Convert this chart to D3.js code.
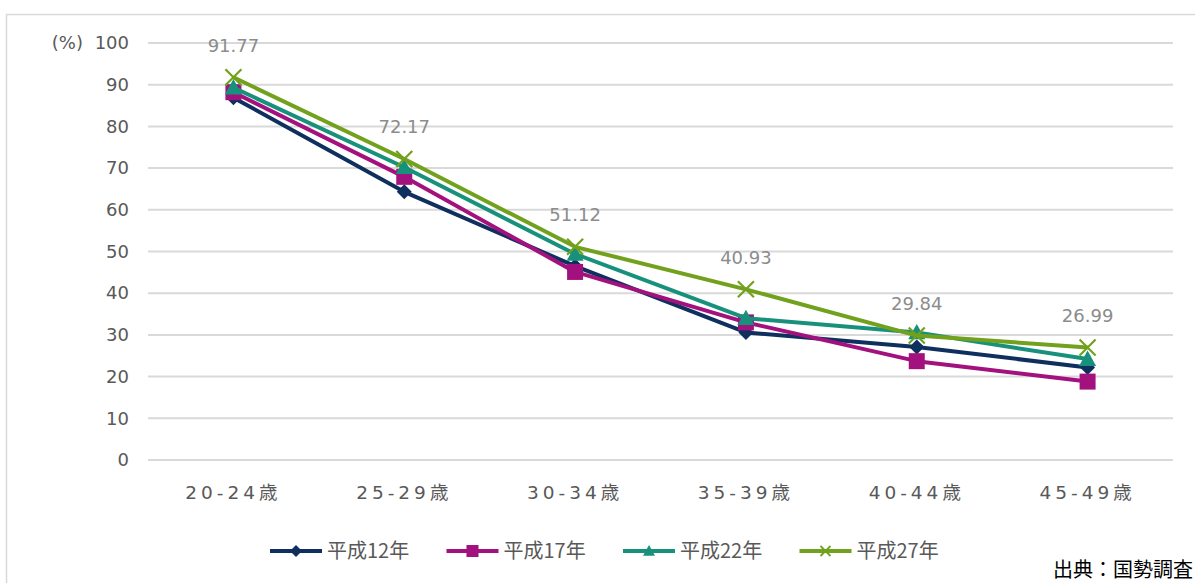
<!DOCTYPE html>
<html>
<head>
<meta charset="utf-8">
<script src="https://cdn.jsdelivr.net/npm/d3@7/dist/d3.min.js"></script>
<style>
  html, body { margin: 0; padding: 0; background: #fff; }
  svg { display: block; }
  text { font-family: "DejaVu Sans", "Noto Sans CJK JP", sans-serif; }
</style>
</head>
<body>
<svg id="chart" width="1195" height="583"></svg>
<script>
// Age groups on the x axis
const categories = ["20-24歳", "25-29歳", "30-34歳", "35-39歳", "40-44歳", "45-49歳"];

// Unmarried rate (%) by census year
const h12 = [86.9, 64.3, 46.5, 30.6, 27.1, 22.2];
const h17 = [88.2, 67.9, 45.1, 33.0, 23.7, 18.8];
const h22 = [89.3, 70.2, 49.4, 34.0, 30.6, 24.2];
const h27 = [91.77, 72.17, 51.12, 40.93, 29.84, 26.99];

const yTicks = [0, 10, 20, 30, 40, 50, 60, 70, 80, 90, 100];
const seriesNames = ["平成12年", "平成17年", "平成22年", "平成27年"];

const series = [
  { name: seriesNames[0], values: h12, color: "#0f2f5e", marker: "diamond" },
  { name: seriesNames[1], values: h17, color: "#a3117f", marker: "square" },
  { name: seriesNames[2], values: h22, color: "#17917b", marker: "triangle" },
  { name: seriesNames[3], values: h27, color: "#71a11d", marker: "cross" }
];

const svg = d3.select("#chart");

// outer frame
svg.append("rect")
  .attr("x", 6.5).attr("y", 14.5)
  .attr("width", 1300).attr("height", 700)
  .attr("fill", "none").attr("stroke", "#d9d9d9").attr("stroke-width", 1.5);

const plotLeft = 148, plotRight = 1173, plotTop = 43, plotBottom = 460;

const x = d3.scaleBand().domain(categories).range([plotLeft, plotRight]);
const xc = c => x(c) + x.bandwidth() / 2;
const y = d3.scaleLinear().domain([0, 100]).range([plotBottom, plotTop]);

// horizontal gridlines
svg.append("g").selectAll("line").data(yTicks).join("line")
  .attr("x1", plotLeft).attr("x2", plotRight)
  .attr("y1", d => y(d)).attr("y2", d => y(d))
  .attr("stroke", "#d9d9d9").attr("stroke-width", 2);

// y axis labels
const yAxis = d3.axisLeft(y).tickValues(yTicks).tickSize(0).tickPadding(0);
const gy = svg.append("g").attr("transform", `translate(${plotLeft - 19},0)`).call(yAxis);
gy.select(".domain").remove();
gy.selectAll("text")
  .attr("fill", "#595959")
  .style("font-size", "18px");

svg.append("text")
  .attr("x", 83).attr("y", y(100))
  .attr("dy", "0.32em")
  .attr("text-anchor", "end")
  .attr("fill", "#595959")
  .style("font-size", "18px")
  .text("(%)");

// x axis labels
const xAxis = d3.axisBottom(x).tickSize(0).tickPadding(0);
const gx = svg.append("g").attr("transform", `translate(0,${plotBottom + 26})`).call(xAxis);
gx.select(".domain").remove();
gx.selectAll("text")
  .attr("fill", "#595959")
  .style("font-size", "18.5px")
  .style("letter-spacing", "4px");

// marker shapes
function markerPath(type, s) {
  const h = s / 2;
  switch (type) {
    case "diamond": return `M0,${-h}L${h},0L0,${h}L${-h},0Z`;
    case "square": return `M${-h},${-h}H${h}V${h}H${-h}Z`;
    case "triangle": return `M0,${-h}L${h},${h * 0.8}H${-h}Z`;
    case "cross": return `M${-h},${-h}L${h},${h}M${h},${-h}L${-h},${h}`;
  }
}
const markerSize = { diamond: 15, square: 16, triangle: 17, cross: 16 };

const line = d3.line()
  .x((d, i) => xc(categories[i]))
  .y(d => y(d));

series.forEach(s => {
  const g = svg.append("g");
  g.append("path")
    .attr("d", line(s.values))
    .attr("fill", "none")
    .attr("stroke", s.color)
    .attr("stroke-width", 4)
    .attr("stroke-linejoin", "round");
  g.selectAll("path.m").data(s.values).join("path")
    .attr("class", "m")
    .attr("transform", (d, i) => `translate(${xc(categories[i])},${y(d)})`)
    .attr("d", markerPath(s.marker, markerSize[s.marker]))
    .attr("fill", s.marker === "cross" ? "none" : s.color)
    .attr("stroke", s.marker === "cross" ? s.color : "none")
    .attr("stroke-width", 2.2);
});

// value labels for 平成27年
svg.append("g").selectAll("text").data(h27).join("text")
  .attr("x", (d, i) => xc(categories[i]))
  .attr("y", d => y(d) - 32)
  .attr("dy", "0.35em")
  .attr("text-anchor", "middle")
  .attr("fill", "#8c8c8c")
  .style("font-size", "18px")
  .text(d => d3.format(".2f")(d));

// legend
const legend = svg.append("g").attr("transform", "translate(270,551)");
series.forEach((s, i) => {
  const g = legend.append("g").attr("transform", `translate(${i * 176.5},0)`);
  g.append("line").attr("x1", 0).attr("x2", 52).attr("y1", 0).attr("y2", 0)
    .attr("stroke", s.color).attr("stroke-width", 4);
  g.append("path")
    .attr("transform", "translate(26,0)")
    .attr("d", markerPath(s.marker, s.marker === "cross" ? 10 : 12))
    .attr("fill", s.marker === "cross" ? "none" : s.color)
    .attr("stroke", s.marker === "cross" ? s.color : "none")
    .attr("stroke-width", 1.8);
  g.append("text").attr("x", 57).attr("y", 0).attr("dy", "0.36em")
    .attr("fill", "#595959").style("font-size", "20px")
    .style("font-family", "'Noto Sans CJK JP', sans-serif")
    .text(s.name);
});

// source note
svg.append("text")
  .attr("x", 1193).attr("y", 570)
  .attr("dy", "0.36em")
  .attr("text-anchor", "end")
  .attr("fill", "#000")
  .style("font-size", "20px")
  .style("font-family", "'Noto Sans CJK JP', sans-serif")
  .text("出典：国勢調査");
</script>
</body>
</html>
